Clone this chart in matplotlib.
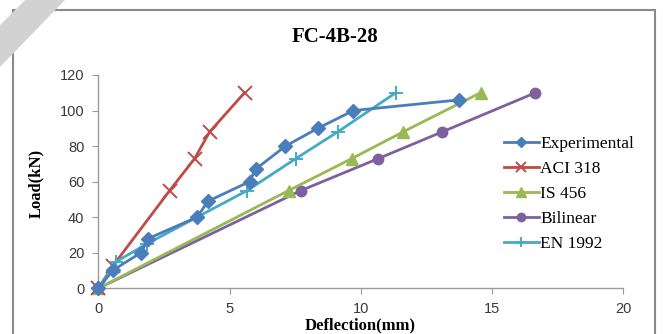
import matplotlib
matplotlib.use("Agg")
import matplotlib.pyplot as plt
from matplotlib.patches import Polygon, Rectangle

# ---- data ----
exp_x = [0, 0.57, 1.62, 1.9, 3.76, 4.18, 5.76, 5.99, 7.13, 8.36, 9.72, 13.74]
exp_y = [0, 10.3, 20, 28, 40, 49, 60, 67, 80, 90, 100, 106]
aci_x = [0, 0.55, 2.72, 3.67, 4.24, 5.57]
aci_y = [0, 12.5, 55, 73, 88, 110]
is_x = [0, 7.25, 9.66, 11.61, 14.56]
is_y = [0, 55, 73, 88, 110]
bil_x = [0, 7.72, 10.67, 13.1, 16.65]
bil_y = [0, 55, 73, 88, 110]
en_x = [0, 0.68, 1.85, 5.67, 7.53, 9.12, 11.33]
en_y = [0, 15, 25, 55, 73, 88, 110]

series_names = ["Experimental", "ACI 318", "IS 456", "Bilinear", "EN 1992"]
x_ticks = [0, 5, 10, 15, 20]
y_ticks = [0, 20, 40, 60, 80, 100, 120]

W, H = 663, 334
fig = plt.figure(figsize=(W / 100, H / 100), dpi=100)

def fx(px):
    return px / W

def fy(py):
    return 1 - py / H

ax = fig.add_axes([fx(98.3), fy(288.3), fx(623.3) - fx(98.3), fy(75) - fy(288.3)])

lw = 2.0
ax.plot(exp_x, exp_y, color="#4A7EBB", lw=lw, marker="D", ms=7, label=series_names[0], zorder=5)
ax.plot(aci_x, aci_y, color="#BE4B48", lw=lw, marker="x", ms=9.5, mew=1.4, label=series_names[1], zorder=4)
ax.plot(is_x, is_y, color="#98B954", lw=lw, marker="^", ms=8.5, label=series_names[2], zorder=3)
ax.plot(bil_x, bil_y, color="#7D60A0", lw=lw, marker="o", ms=7.5, label=series_names[3], zorder=2)
ax.plot(en_x, en_y, color="#46AAC5", lw=lw, marker="+", ms=9.5, mew=1.4, label=series_names[4], zorder=4)

ax.set_xlim(0, 20)
ax.set_ylim(0, 120)
ax.set_xticks(x_ticks)
ax.set_yticks(y_ticks)
for s in ["top", "right"]:
    ax.spines[s].set_visible(False)
for s in ["left", "bottom"]:
    ax.spines[s].set_color("#9a9a9a")
    ax.spines[s].set_linewidth(1.0)
ax.tick_params(axis="both", direction="out", length=4, width=0.8, color="#9a9a9a",
               labelsize=10.5, labelcolor="#3a3a3a", pad=6)
for lab in ax.get_xticklabels() + ax.get_yticklabels():
    lab.set_fontfamily("Liberation Sans")
for line in ax.lines:
    line.set_clip_on(False)

# title and axis labels
fig.text(fx(335), fy(37), "FC-4B-28", ha="center", va="center",
         fontfamily="Liberation Serif", fontweight="bold", fontsize=15)
fig.text(fx(36), fy(183), "Load(kN)", ha="center", va="center", rotation=90,
         fontfamily="Liberation Serif", fontweight="bold", fontsize=12)
fig.text(fx(360), fy(325), "Deflection(mm)", ha="center", va="center",
         fontfamily="Liberation Serif", fontweight="bold", fontsize=12)

leg = fig.legend(loc="center left", bbox_to_anchor=(fx(504), fy(194)),
                 frameon=False, prop={"family": "Liberation Serif", "size": 12.5},
                 handlelength=2.0, handletextpad=0.1, labelspacing=0.5,
                 borderpad=0, borderaxespad=0, markerscale=0.8)

# chart border
fig.patches.append(Rectangle((fx(13), fy(400)), fx(655) - fx(13), fy(10) - fy(400),
                             transform=fig.transFigure, fill=False, ec="#8a8a8a", lw=1.5, zorder=0))
# gray diagonal stripe in the corner
fig.patches.append(Polygon([(fx(25), fy(0)), (fx(65), fy(0)), (fx(0), fy(67)), (fx(0), fy(25))],
                           closed=True, transform=fig.transFigure, fc="#d2d2d2", ec="none", zorder=1))

fig.savefig("out.png", dpi=100)
